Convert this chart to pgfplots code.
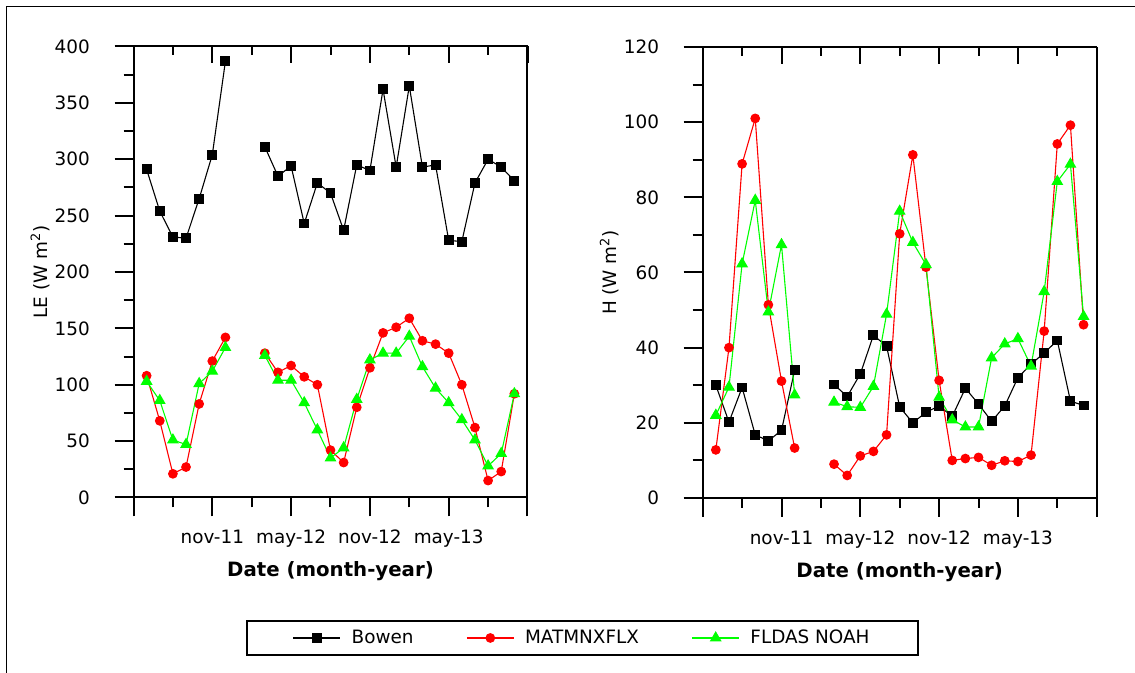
\documentclass[border=0pt]{standalone}
\usepackage{pgfplots}
\pgfplotsset{compat=1.18}
\usepackage{fontspec}
\setmainfont{DejaVu Sans}
\newlength\px \setlength\px{0.75pt}

\pgfplotsset{
 panel/.style={
   scale only axis, width=394\px, height=451\px,
   xmin=-6, xmax=24,
   axis x line*=bottom, axis y line*=left,
   tick align=outside,
   xtick={-6,0,6,12,18,24}, xticklabels={,nov-11,may-12,nov-12,may-13,},
   minor xtick={-3,3,9,15,21},
   major tick length=19\px, minor tick length=10\px,
   axis line style={line width=2\px, -},
   every tick/.style={line width=2\px, black},
   tick label style={font=\fontsize{13.8}{16}\selectfont},
   xticklabel style={yshift=-9\px},
   yticklabel style={xshift=-20\px},
   /pgf/number format/assume math mode=true,
   unbounded coords=jump,
   clip=false,
   xlabel={Date (month-year)},
   xlabel style={at={(axis description cs:0.5,-0.164)}, anchor=center, font=\fontsize{14.8}{17}\selectfont\bfseries},
   ylabel style={at={(axis description cs:-0.237,0.5)}, anchor=center, rotate=0, font=\fontsize{13.8}{16}\selectfont},
   after end axis/.code={\draw[line width=2\px] (rel axis cs:1,0) -- (rel axis cs:1,1);},
 },
 topticks/.style={
   scale only axis, width=394\px, height=451\px,
   xmin=-6, xmax=24, ymin=0, ymax=1,
   axis x line*=top, axis y line=none,
   tick align=inside,
   xtick={-6,0,6,12,18,24}, xticklabels={},
   minor xtick={-3,3,9,15,21},
   major tick length=17\px, minor tick length=9\px,
   axis line style={line width=2\px, -},
   every tick/.style={line width=2\px, black},
 },
 bw/.style={black, line width=1.1\px, mark=square*, mark size=4.4\px, mark options={solid}},
 rd/.style={red, line width=1.1\px, mark=*, mark size=4.3\px, mark options={solid}},
 gr/.style={green, line width=1.1\px, mark=triangle*, mark size=5.8\px, mark options={solid}},
}

\begin{document}
\begin{tikzpicture}
\useasboundingbox (0,0) rectangle (1135\px,673\px);
\draw[line width=1.3\px] (6.7\px,-20\px) -- (6.7\px,666.3\px) -- (1160\px,666.3\px);

% ---------- left panel ----------
\begin{axis}[panel, at={(133.5\px,175.5\px)}, anchor=south west,
  ymin=0, ymax=400, ytick={0,50,...,400}, minor ytick={25,75,...,375},
  ylabel={LE (W m\textsuperscript{2})},
  legend columns=3,
  legend style={at={(axis description cs:1.1398,-0.3115)}, anchor=center,
    draw=black, line width=2\px, inner xsep=46\px, inner ysep=6.5\px,
    font=\fontsize{13.8}{16}\selectfont,
    /tikz/every odd column/.append style={column sep=8\px},
    /tikz/every even column/.append style={column sep=50\px}},
  legend image code/.code={\draw[#1, mark repeat=2, mark phase=2] plot coordinates {(0,0) (23.5\px,0) (47\px,0)};},
]
\addplot[bw] coordinates {(-5,291) (-4,254) (-3,231) (-2,230) (-1,265) (0,304) (1,387) (2,nan)
 (4,311) (5,285) (6,294) (7,243) (8,279) (9,270) (10,237) (11,295) (12,290) (13,362) (14,293)
 (15,365) (16,293) (17,295) (18,228) (19,227) (20,279) (21,300) (22,293) (23,281)};
\addlegendentry{Bowen}
\addplot[rd] coordinates {(-5,108) (-4,68) (-3,21) (-2,27) (-1,83) (0,121) (1,142) (2,nan)
 (4,128) (5,111) (6,117) (7,107) (8,100) (9,42) (10,31) (11,80) (12,115) (13,146) (14,151)
 (15,159) (16,139) (17,136) (18,128) (19,100) (20,62) (21,15) (22,23) (23,92)};
\addlegendentry{MATMNXFLX}
\addplot[gr] coordinates {(-5,103) (-4,86) (-3,51) (-2,47) (-1,101) (0,112) (1,133) (2,nan)
 (4,126) (5,104) (6,104) (7,84) (8,60) (9,35) (10,44) (11,87) (12,122) (13,128) (14,128)
 (15,143) (16,116) (17,97) (18,84) (19,69) (20,51) (21,28) (22,39) (23,92)};
\addlegendentry{FLDAS NOAH}
\end{axis}
\begin{axis}[topticks, at={(133.5\px,175.5\px)}, anchor=south west]
\end{axis}

% ---------- right panel ----------
\begin{axis}[panel, at={(702.7\px,175\px)}, anchor=south west,
  ymin=0, ymax=120, ytick={0,20,...,120}, minor ytick={10,30,...,110},
  ylabel={H (W m\textsuperscript{2})},
]
\addplot[bw] coordinates {(-5,30) (-4,20.2) (-3,29.4) (-2,16.8) (-1,15.2) (0,18) (1,34) (2,nan)
 (4,30.2) (5,27) (6,33) (7,43.3) (8,40.4) (9,24.2) (10,20) (11,22.8) (12,24.5) (13,21.7) (14,29.2)
 (15,25) (16,20.4) (17,24.5) (18,32) (19,35.6) (20,38.6) (21,41.9) (22,25.8) (23,24.6)};
\addplot[rd] coordinates {(-5,12.8) (-4,40) (-3,88.9) (-2,101) (-1,51.4) (0,31.1) (1,13.3) (2,nan)
 (4,9) (5,6) (6,11.2) (7,12.4) (8,16.8) (9,70.3) (10,91.3) (11,61.4) (12,31.3) (13,10) (14,10.5)
 (15,10.8) (16,8.7) (17,9.9) (18,9.7) (19,11.4) (20,44.4) (21,94.2) (22,99.2) (23,46.1)};
\addplot[gr] coordinates {(-5,22) (-4,29.5) (-3,62.3) (-2,79.2) (-1,49.5) (0,67.4) (1,27.4) (2,nan)
 (4,25.5) (5,24.3) (6,24.1) (7,29.7) (8,48.9) (9,76.3) (10,68) (11,62.1) (12,26.8) (13,20.8) (14,18.9)
 (15,18.9) (16,37.3) (17,41) (18,42.4) (19,35.1) (20,54.9) (21,84.2) (22,88.8) (23,48.3)};
\end{axis}
\begin{axis}[topticks, at={(702.7\px,175\px)}, anchor=south west]
\end{axis}
\end{tikzpicture}
\end{document}
